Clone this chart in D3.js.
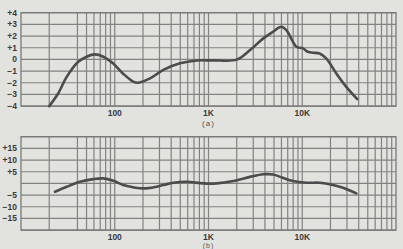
<!DOCTYPE html>
<meta charset="utf-8">
<style>
  body { margin: 0; background: #e2e2df; }
  svg { display: block; font-family: "Liberation Sans", Arial, sans-serif; }
</style>
<svg width="403" height="249"></svg>
<script src="https://d3js.org/d3.v7.min.js"></script>
<script>

// chart (a): response in dB, top panel
var freqA = [20, 25, 30.7, 40.8, 50.2, 61.5, 75.5, 95.7, 122, 157, 178, 238, 330, 497, 748, 1117,
             2000, 2775, 3846, 4880, 5980, 6770, 7970, 8640, 10180, 11500, 13000, 15350, 18000, 23100, 29500, 38600];
var valA  = [-4, -2.9, -1.5, -0.2, 0.23, 0.43, 0.23, -0.34, -1.2, -1.9, -2.0, -1.63, -0.9, -0.34, -0.1, -0.08,
             -0.02, 0.8, 1.8, 2.37, 2.8, 2.5, 1.5, 1.08, 0.94, 0.65, 0.57, 0.51, 0.08, -1.2, -2.35, -3.4];

// chart (b): lower panel
var freqB = [23, 30.7, 42.5, 59, 75.5, 96.6, 123, 158, 186, 238, 330, 422, 585, 881, 1222, 1840,
             2775, 3846, 4880, 6100, 7970, 11040, 15350, 19630, 27200, 37750];
var valB  = [-3.6, -1.46, 0.7, 1.84, 2.14, 1.1, -0.7, -1.7, -2.1, -1.9, -0.7, 0.27, 0.7, 0, 0, 1.0,
             2.8, 3.9, 3.8, 2.5, 1.0, 0.3, 0.3, -0.4, -1.9, -4.3];

var ticksA = [4, 3, 2, 1, 0, -1, -2, -3, -4];
var labelsA = ["+4", "+3", "+2", "+1", "0", "\u22121", "\u22122", "\u22123", "\u22124"];
var ticksB = [15, 10, 5, -5, -10, -15];
var labelsB = ["+15", "+10", "+5", "\u22125", "\u221210", "\u221215"];
var freqTicks = [100, 1000, 10000];
var freqLabels = ["100", "1K", "10K"];

var svg = d3.select("svg");

var x = d3.scaleLog().domain([10, 100000]).range([21, 396]);

// grid frequencies: decade 10-100 lacks the 30 Hz line on this paper
var gridF = [20, 40, 50, 60, 70, 80, 90];
[100, 1000, 10000].forEach(function(d) {
  for (var k = 1; k <= 9; k++) gridF.push(d * k);
});

function panel(top, yDomain, yTicks, yLabels, freq, vals, caption, capY, capSize) {
  var y = d3.scaleLinear().domain(yDomain).range([top + 93.4, top]);
  var g = svg.append("g");
  var ys = d3.range(yDomain[0], yDomain[1] + 0.001, (yDomain[1] - yDomain[0]) / 8);

  g.selectAll(".h").data(ys).enter().append("line")
      .attr("x1", x.range()[0]).attr("x2", x.range()[1])
      .attr("y1", function(d) { return y(d); }).attr("y2", function(d) { return y(d); })
      .attr("stroke", "#828280").attr("stroke-width", 1.2);

  g.selectAll(".v").data(gridF).enter().append("line")
      .attr("x1", function(d) { return x(d); }).attr("x2", function(d) { return x(d); })
      .attr("y1", y.range()[1]).attr("y2", y.range()[0])
      .attr("stroke", "#828280").attr("stroke-width", 1.2);

  g.append("rect")
      .attr("x", x.range()[0]).attr("y", y.range()[1])
      .attr("width", x.range()[1] - x.range()[0]).attr("height", y.range()[0] - y.range()[1])
      .attr("fill", "none").attr("stroke", "#7a7a78").attr("stroke-width", 1.3);

  g.selectAll(".yl").data(yTicks).enter().append("text")
      .attr("x", 17).attr("y", function(d) { return y(d) + 3; })
      .attr("text-anchor", "end").attr("font-size", 8.5).attr("font-weight", "bold")
      .attr("fill", "#3a3a3a")
      .text(function(d, i) { return yLabels[i]; });

  g.selectAll(".xl").data(freqTicks).enter().append("text")
      .attr("x", function(d) { return x(d); }).attr("y", y.range()[0] + 9.5)
      .attr("text-anchor", "middle").attr("font-size", 8.5).attr("font-weight", "bold")
      .attr("fill", "#3a3a3a")
      .text(function(d, i) { return freqLabels[i]; });

  g.append("text")
      .attr("x", x(1000)).attr("y", capY)
      .attr("text-anchor", "middle").attr("font-size", capSize)
      .attr("fill", "#555").attr("letter-spacing", 1)
      .text(caption);

  var line = d3.line()
      .x(function(d) { return x(d[0]); })
      .y(function(d) { return y(d[1]); })
      .curve(d3.curveCatmullRom);

  g.append("path")
      .datum(d3.zip(freq, vals))
      .attr("d", line)
      .attr("fill", "none").attr("stroke", "#4d4b4b").attr("stroke-width", 2.6)
      .attr("stroke-linejoin", "round").attr("stroke-linecap", "round");
}

panel(12.7, [-4, 4], ticksA, labelsA, freqA, valA, "(a)", 126, 8);
panel(136.7, [-20, 20], ticksB, labelsB, freqB, valB, "(b)", 248, 7);

</script>
